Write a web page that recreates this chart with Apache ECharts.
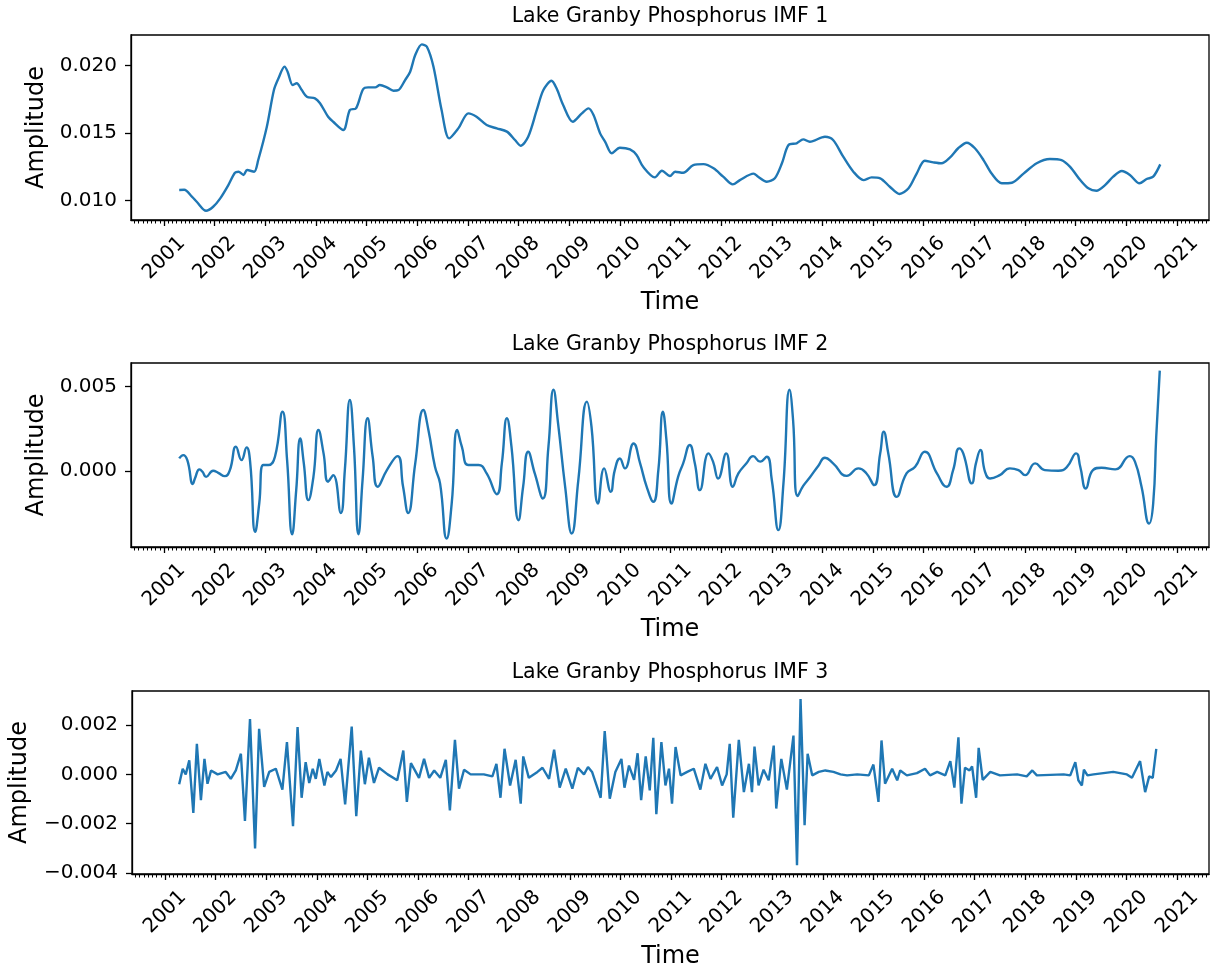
<!DOCTYPE html>
<html>
<head>
<meta charset="utf-8">
<script src="https://cdn.jsdelivr.net/npm/echarts@6/dist/echarts.min.js"></script>
<style>
html,body{margin:0;padding:0;background:#fff;}
#chart{width:1216px;height:972px;}
</style>
</head>
<body>
<div id="chart"></div>
<script>
// ---- Data (decimal years, amplitude) ----
const titles = ['Lake Granby Phosphorus IMF 1', 'Lake Granby Phosphorus IMF 2', 'Lake Granby Phosphorus IMF 3'];
const yearTicks = [2001,2002,2003,2004,2005,2006,2007,2008,2009,2010,2011,2012,2013,2014,2015,2016,2017,2018,2019,2020,2021];
const imf1YTicks = [0.010, 0.015, 0.020];
const imf2YTicks = [0.000, 0.005];
const imf3YTicks = [-0.004, -0.002, 0.000, 0.002];

const imf1Time = [2001.30,2001.40,2001.55,2001.65,2001.83,2001.97,2002.11,2002.27,2002.40,2002.47,2002.57,2002.64,2002.78,2002.86,2003.03,2003.17,2003.26,2003.38,2003.44,2003.54,2003.62,2003.72,2003.82,2003.98,2004.08,2004.24,2004.34,2004.54,2004.67,2004.79,2004.93,2005.03,2005.17,2005.26,2005.40,2005.53,2005.63,2005.76,2005.86,2005.96,2006.09,2006.19,2006.32,2006.48,2006.63,2006.81,2007.01,2007.17,2007.37,2007.57,2007.77,2007.93,2008.04,2008.19,2008.36,2008.49,2008.65,2008.75,2008.88,2009.07,2009.25,2009.38,2009.48,2009.61,2009.71,2009.84,2010.00,2010.20,2010.33,2010.46,2010.69,2010.83,2010.99,2011.09,2011.25,2011.45,2011.65,2011.85,2012.04,2012.23,2012.37,2012.64,2012.73,2012.90,2013.06,2013.20,2013.33,2013.49,2013.62,2013.75,2014.05,2014.21,2014.41,2014.61,2014.81,2014.97,2015.14,2015.33,2015.52,2015.70,2015.86,2016.02,2016.19,2016.35,2016.52,2016.68,2016.85,2017.01,2017.18,2017.34,2017.54,2017.74,2017.97,2018.23,2018.49,2018.72,2018.89,2019.09,2019.25,2019.41,2019.58,2019.74,2019.91,2020.07,2020.26,2020.40,2020.53,2020.67];
const imf1Value = [0.01079,0.0108,0.0103,0.0099,0.00925,0.00955,0.01017,0.01115,0.01206,0.01214,0.0119,0.01226,0.01214,0.0130,0.01546,0.01817,0.01904,0.0199,0.01953,0.01854,0.01867,0.01817,0.01768,0.01756,0.0172,0.0162,0.01583,0.01522,0.0167,0.01682,0.01823,0.01837,0.01837,0.01854,0.01837,0.01812,0.01817,0.01891,0.01953,0.02076,0.02155,0.02137,0.0199,0.0167,0.0146,0.01534,0.01645,0.0162,0.01559,0.01534,0.0151,0.01448,0.01406,0.01472,0.0167,0.01817,0.01886,0.0183,0.01707,0.01583,0.01645,0.01682,0.01633,0.01497,0.01435,0.0135,0.01391,0.01379,0.01337,0.0125,0.01172,0.01221,0.01182,0.01214,0.01206,0.01263,0.0127,0.01239,0.01177,0.0112,0.01152,0.012,0.01177,0.0114,0.01165,0.01276,0.01411,0.01424,0.01453,0.01435,0.01472,0.01448,0.01325,0.01214,0.01152,0.01172,0.01165,0.01103,0.01049,0.01091,0.012,0.01295,0.01283,0.01276,0.0132,0.01387,0.01428,0.01387,0.013,0.012,0.01128,0.01132,0.012,0.01276,0.01308,0.013,0.0125,0.01152,0.01091,0.01073,0.01115,0.01177,0.01219,0.0119,0.01128,0.0116,0.01177,0.01268];

const imf2Time = [2001.30,2001.38,2001.46,2001.57,2001.61,2001.70,2001.76,2001.83,2001.97,2002.07,2002.20,2002.30,2002.42,2002.53,2002.63,2002.70,2002.80,2002.88,2002.96,2003.06,2003.19,2003.34,2003.43,2003.53,2003.61,2003.69,2003.76,2003.85,2003.95,2004.05,2004.15,2004.24,2004.34,2004.49,2004.57,2004.67,2004.75,2004.84,2004.92,2005.02,2005.12,2005.22,2005.40,2005.61,2005.72,2005.82,2005.96,2006.12,2006.22,2006.35,2006.45,2006.58,2006.68,2006.79,2006.88,2007.01,2007.21,2007.37,2007.57,2007.67,2007.77,2007.86,2008.00,2008.09,2008.19,2008.32,2008.48,2008.59,2008.69,2008.78,2008.92,2009.05,2009.18,2009.35,2009.44,2009.57,2009.69,2009.82,2009.90,2010.00,2010.10,2010.27,2010.40,2010.53,2010.66,2010.76,2010.85,2010.92,2011.02,2011.15,2011.25,2011.38,2011.48,2011.58,2011.75,2011.84,2011.94,2012.10,2012.23,2012.34,2012.50,2012.63,2012.77,2012.90,2013.00,2013.13,2013.23,2013.35,2013.42,2013.51,2013.62,2013.75,2013.92,2014.05,2014.21,2014.48,2014.71,2014.87,2015.02,2015.14,2015.21,2015.30,2015.47,2015.66,2015.83,2016.02,2016.26,2016.45,2016.58,2016.70,2016.78,2016.95,2017.03,2017.12,2017.21,2017.31,2017.50,2017.70,2017.87,2018.00,2018.20,2018.39,2018.66,2018.82,2019.01,2019.09,2019.20,2019.34,2019.51,2019.78,2020.07,2020.17,2020.30,2020.45,2020.53,2020.59,2020.66];
const imf2Value = [0.00073,0.00093,0.00063,-0.00079,-0.00046,0.00008,-0.00006,-0.00036,0.0,-0.00012,-0.00032,0.00004,0.00143,0.00063,0.00139,0.00053,-0.00362,-0.00194,0.00034,0.00034,0.00083,0.0035,0.00063,-0.00376,-0.00115,0.00192,0.00044,-0.00174,-0.00036,0.00242,0.00103,-0.00065,-0.00026,-0.0025,0.00004,0.0042,0.00143,-0.00376,-0.00055,0.00311,0.00083,-0.00095,0.00004,0.00087,-0.00095,-0.0025,0.00044,0.0036,0.00242,0.00024,-0.00075,-0.00402,-0.00194,0.00242,0.00143,0.00034,0.00034,-0.00016,-0.00139,0.00044,0.00311,0.00143,-0.00293,-0.00095,0.00113,-0.00016,-0.00164,0.00143,0.0048,0.00281,-0.00095,-0.00372,-0.00055,0.0041,0.00261,-0.00194,0.00014,-0.00125,0.00004,0.00073,0.00014,0.00162,0.00044,-0.00095,-0.00184,0.00004,0.0035,0.00182,-0.00194,-0.00036,0.00044,0.00153,0.00044,-0.00115,0.00103,0.00054,-0.00046,0.00103,-0.00095,-0.00016,0.00044,0.00087,0.00054,0.00083,-0.00055,-0.00352,-0.00075,0.0048,0.00301,-0.0015,-0.0009,-0.0004,0.0003,0.00077,0.00044,-0.0003,0.00014,-0.00016,-0.00085,0.00103,0.00232,0.00103,-0.00155,-0.00016,0.00024,0.00113,-0.00016,-0.00095,0.00004,0.00133,0.00103,-0.00075,0.00044,0.00123,-0.00006,-0.00046,-0.00026,0.00014,0.00004,-0.00026,0.00044,0.00004,0.0,0.0002,0.00103,0.00024,-0.00105,0.00004,0.00018,0.00008,0.00087,0.00054,-0.00095,-0.00313,-0.00194,0.00202,0.00594];

const imf3Time = [2001.28,2001.35,2001.41,2001.48,2001.56,2001.63,2001.71,2001.78,2001.84,2001.91,2002.04,2002.20,2002.30,2002.40,2002.50,2002.58,2002.68,2002.78,2002.86,2002.96,2003.06,2003.19,2003.32,2003.41,2003.53,2003.62,2003.70,2003.78,2003.85,2003.92,2003.98,2004.05,2004.15,2004.21,2004.28,2004.38,2004.47,2004.56,2004.69,2004.78,2004.87,2004.95,2005.03,2005.13,2005.23,2005.40,2005.59,2005.71,2005.78,2005.86,2006.02,2006.12,2006.22,2006.32,2006.44,2006.55,2006.63,2006.73,2006.81,2006.91,2007.04,2007.30,2007.47,2007.55,2007.63,2007.71,2007.82,2007.93,2008.03,2008.08,2008.19,2008.36,2008.46,2008.59,2008.69,2008.80,2008.92,2009.05,2009.16,2009.28,2009.36,2009.44,2009.61,2009.69,2009.79,2009.90,2010.02,2010.08,2010.17,2010.27,2010.34,2010.41,2010.50,2010.58,2010.65,2010.71,2010.81,2010.89,2010.96,2011.02,2011.09,2011.19,2011.32,2011.45,2011.58,2011.68,2011.78,2011.91,2012.01,2012.10,2012.16,2012.23,2012.34,2012.44,2012.54,2012.60,2012.65,2012.73,2012.83,2012.93,2013.03,2013.08,2013.18,2013.29,2013.42,2013.49,2013.56,2013.64,2013.70,2013.79,2013.92,2014.05,2014.21,2014.35,2014.48,2014.68,2014.91,2015.00,2015.10,2015.16,2015.23,2015.37,2015.47,2015.53,2015.66,2015.86,2016.02,2016.12,2016.26,2016.42,2016.52,2016.60,2016.68,2016.74,2016.81,2016.90,2016.95,2017.03,2017.08,2017.16,2017.31,2017.50,2017.84,2018.03,2018.14,2018.23,2018.76,2018.89,2018.99,2019.05,2019.12,2019.16,2019.23,2019.35,2019.74,2020.01,2020.11,2020.27,2020.37,2020.45,2020.52,2020.59,2020.63,2020.68];
const imf3Value = [-0.0004,0.00023,0.0,0.00057,-0.00157,0.00124,-0.00105,0.00063,-0.00038,0.00016,0.0,0.0001,-0.00018,0.00016,0.00084,-0.00189,0.00225,-0.00301,0.00185,-0.00051,0.0001,0.00023,-0.00062,0.00131,-0.00211,0.00192,-0.00095,0.0005,-0.00035,0.00023,-0.00018,0.00063,-0.00045,0.0001,-0.00011,0.00016,0.00063,-0.00122,0.00194,-0.0017,0.00097,-0.0004,0.00068,-0.00035,0.00027,0.0,-0.00024,0.00097,-0.00112,0.00046,-0.00014,0.00063,-0.00014,0.00016,-0.00014,0.00059,-0.00146,0.0014,-0.00058,0.00019,0.0,0.0,-0.00008,0.00043,-0.00095,0.00104,-0.00045,0.00059,-0.00119,0.00073,-0.00014,0.0001,0.00027,-0.00018,0.001,-0.00054,0.00023,-0.00058,0.00027,0.0,0.0003,0.0001,-0.00095,0.00176,-0.00099,0.0001,0.00063,-0.00054,0.00036,-0.00022,0.00086,-0.00105,0.00073,-0.00065,0.00149,-0.00162,0.00131,-0.00045,0.00023,-0.00119,0.00111,-0.00004,0.0001,0.00023,-0.00062,0.00043,-0.00018,0.0003,-0.00045,0.0,0.00124,-0.00176,0.0014,-0.00072,0.00043,-0.00072,0.00113,-0.00045,0.00019,-0.00024,0.00117,-0.00139,0.00063,-0.00062,0.00158,-0.00369,0.00306,-0.00207,0.00084,-0.00004,0.0001,0.00016,0.0001,0.0,-0.00004,0.0,-0.00004,0.0004,-0.00112,0.00138,-0.00038,0.00023,-0.00024,0.00016,-0.00004,0.00005,0.00023,-0.00004,0.0001,-0.00004,0.00054,-0.00054,0.00151,-0.00119,0.00027,0.00016,0.00032,-0.00095,0.00108,-0.00022,0.0001,-0.00004,0.0,-0.00008,0.00016,-0.00004,0.0,-0.00004,0.0005,-0.00024,-0.00045,0.00019,-0.00004,0.0,0.0001,0.0,-0.00014,0.00054,-0.00072,-0.00008,-0.00014,0.00104];

// ---- Layout ----
const X_MIN = 2000.348, X_MAX = 2021.632;
const grids = [
  {left: 131, right: 7, top: 35, height: 185},
  {left: 131, right: 7, top: 363, height: 184},
  {left: 131, right: 7, top: 691, height: 183}
];
const yRanges = [[0.00857, 0.02224], [-0.00452, 0.00639], [-0.00405, 0.00339]];
const yTicks = [imf1YTicks, imf2YTicks, imf3YTicks];
const yNameGap = [81, 81, 100];
const series = [[imf1Time, imf1Value, 0.3], [imf2Time, imf2Value, 0.5], [imf3Time, imf3Value, false]];

const monthTicks = [];
for (let y = 2000; y <= 2021; y++) for (let m = 0; m < 12; m++) {
  const v = y + m / 12;
  if (v >= X_MIN && v <= X_MAX && m !== 0) monthTicks.push(v);
}

const FONT = 'DejaVu Sans';
const fmtY = v => (Math.abs(v) < 1e-9 ? '0.000' : v.toFixed(3)).replace('-', '\u2212');

const option = {
  animation: false,
  backgroundColor: '#fff',
  textStyle: {fontFamily: FONT},
  title: titles.map((t, i) => ({
    text: t, left: 670, textAlign: 'center', top: grids[i].top - 29, padding: 0,
    textStyle: {fontFamily: FONT, fontSize: 20.5, fontWeight: 'normal', color: '#000'}
  })),
  grid: grids.map(g => Object.assign({show: true, borderColor: '#000', borderWidth: 1.3, backgroundColor: 'transparent'}, g)),
  xAxis: [],
  yAxis: [],
  series: []
};

for (let i = 0; i < 3; i++) {
  option.xAxis.push({
    type: 'value', gridIndex: i, min: X_MIN, max: X_MAX,
    name: 'Time', nameLocation: 'middle', nameGap: 71,
    nameTextStyle: {fontFamily: FONT, fontSize: 24, color: '#000'},
    axisLine: {show: true, onZero: false, lineStyle: {color: '#000', width: 1.3}},
    axisTick: {show: true, length: 6, customValues: yearTicks, lineStyle: {color: '#000', width: 1.3}},
    axisLabel: {show: true, customValues: yearTicks, rotate: 45, align: 'center', verticalAlign: 'middle', margin: 38,
      fontFamily: FONT, fontSize: 20, color: '#000', formatter: v => String(Math.round(v))},
    splitLine: {show: false}
  });
  // minor (monthly) ticks
  option.xAxis.push({
    type: 'value', gridIndex: i, min: X_MIN, max: X_MAX, position: 'bottom',
    axisLine: {show: false, onZero: false},
    axisTick: {show: true, length: 3.5, customValues: monthTicks, lineStyle: {color: '#000', width: 1}},
    axisLabel: {show: false},
    splitLine: {show: false}
  });
  option.yAxis.push({
    type: 'value', gridIndex: i, min: yRanges[i][0], max: yRanges[i][1],
    name: 'Amplitude', nameLocation: 'middle', nameGap: yNameGap[i],
    nameTextStyle: {fontFamily: FONT, fontSize: 24, color: '#000'},
    axisLine: {show: true, onZero: false, lineStyle: {color: '#000', width: 1.3}},
    axisTick: {show: true, length: 6, customValues: yTicks[i], lineStyle: {color: '#000', width: 1.3}},
    axisLabel: {show: true, customValues: yTicks[i], margin: 14, fontFamily: FONT, fontSize: 20, color: '#000', formatter: fmtY},
    splitLine: {show: false}
  });
  const [ts, vs, sm] = series[i];
  option.series.push({
    type: 'line', xAxisIndex: i * 2, yAxisIndex: i,
    data: ts.map((t, k) => [t, vs[k]]),
    showSymbol: false, smooth: sm,
    lineStyle: {color: '#1f77b4', width: 2.4},
    clip: true
  });
}

const chart = echarts.init(document.getElementById('chart'), null, {renderer: 'canvas'});
chart.setOption(option);
</script>
</body>
</html>
